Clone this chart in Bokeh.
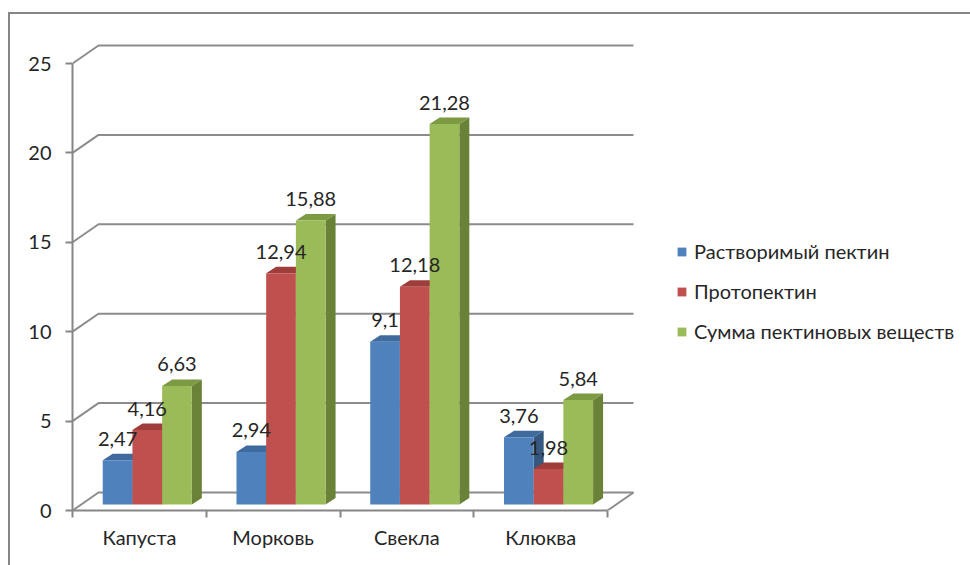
from bokeh.core.properties import value
from bokeh.embed import file_html
from bokeh.models import (ColumnDataSource, FixedTicker, InlineStyleSheet, Legend, LegendItem,
                          Range1d)
from bokeh.plotting import figure
from bokeh.resources import INLINE

# Pectin content by vegetable / berry
categories = ["Капуста", "Морковь", "Свекла", "Клюква"]
series_names = ["Растворимый пектин", "Протопектин", "Сумма пектиновых веществ"]
soluble = [2.47, 2.94, 9.1, 3.76]
protopectin = [4.16, 12.94, 12.18, 1.98]
total = [6.63, 15.88, 21.28, 5.84]
y_ticks = [0, 5, 10, 15, 20, 25]

FONT = "Lato"
TEXT = "#262626"
AXIS = "#868686"
GRID = "#8c8c8c"
FRONT = ["#4F81BD", "#C0504D", "#9BBB59"]
TOP = ["#3E6A9E", "#9E3D3A", "#7C9A42"]
SIDE = ["#36587F", "#8A3634", "#6A8138"]

PX_X = 133.75   # pixels per category
PX_Y = 17.88    # pixels per value unit
WALL_DX, WALL_DY = 26 / PX_X, 18 / PX_Y      # floor depth
BAR_DX, BAR_DY = 10 / PX_X, 6.5 / PX_Y       # bar depth
BASE = 6 / PX_Y                              # bars stand slightly behind the front edge
BAR_W = 29.7 / PX_X
GROUP_START = 0.226

# Chart-area edge: only its top and left sides fall inside the page
edge = InlineStyleSheet(css=f""":host::before {{
    content: ""; position: absolute; left: 8px; top: 12px; right: 0; bottom: 0;
    border-style: solid; border-color: {AXIS}; border-width: 2px 0 0 2px;
    pointer-events: none; z-index: 5;
}}""")

p = figure(width=970, height=565, output_backend="svg", toolbar_location=None,
           x_range=Range1d(0, 898 / PX_X), y_range=Range1d(0, 510 / PX_Y),
           min_border_left=72, min_border_right=0, min_border_top=0, min_border_bottom=55,
           outline_line_color=None, background_fill_color="white", border_fill_color="white",
           stylesheets=[edge])
p.grid.visible = False

# Axes
xa = p.xaxis[0]
xa.ticker = FixedTicker(ticks=[i + 0.5 for i in range(len(categories))],
                        minor_ticks=list(range(len(categories) + 1)))
xa.major_label_overrides = {i + 0.5: c for i, c in enumerate(categories)}
xa.bounds = (0, len(categories))
xa.major_tick_out = 0
xa.major_tick_in = 0
xa.minor_tick_out = 7
xa.minor_tick_in = 0
xa.major_label_standoff = 7
ya = p.yaxis[0]
ya.ticker = FixedTicker(ticks=y_ticks)
ya.bounds = (0, y_ticks[-1])
ya.major_tick_out = 7
ya.major_tick_in = 0
ya.minor_tick_out = 0
ya.minor_tick_in = 0
ya.major_label_standoff = 14
for ax in (xa, ya):
    ax.axis_line_color = AXIS
    ax.axis_line_width = 2
    ax.major_tick_line_color = AXIS
    ax.major_tick_line_width = 2
    ax.minor_tick_line_color = AXIS
    ax.minor_tick_line_width = 2
    ax.major_label_text_font = FONT
    ax.major_label_text_font_size = "20px"
    ax.major_label_text_color = TEXT

# Back-wall gridlines and floor edge
n = len(categories)
gx, gy = [], []
for t in y_ticks:
    gx.append([0, WALL_DX, n + WALL_DX])
    gy.append([t, t + WALL_DY, t + WALL_DY])
gx.append([n, n + WALL_DX])
gy.append([0, WALL_DY])
p.multi_line(gx, gy, line_color=GRID, line_width=2)

# Bars: front face plus top and side faces for the 3-D look
legend_items = []
label_x, label_y, label_text = [], [], []
for s, vals in enumerate((soluble, protopectin, total)):
    left = [i + GROUP_START + s * BAR_W for i in range(n)]
    right = [x + BAR_W for x in left]
    bottom = [BASE] * n
    top = [BASE + v for v in vals]
    side_x = [[r, r + BAR_DX, r + BAR_DX, r] for r in right]
    side_y = [[b, b + BAR_DY, t + BAR_DY, t] for b, t in zip(bottom, top)]
    top_x = [[l, l + BAR_DX, r + BAR_DX, r] for l, r in zip(left, right)]
    top_y = [[t, t + BAR_DY, t + BAR_DY, t] for t in top]
    p.patches(side_x, side_y, fill_color=SIDE[s], line_color=None)
    p.patches(top_x, top_y, fill_color=TOP[s], line_color=None)
    r = p.quad(left=left, right=right, bottom=bottom, top=top,
               fill_color=FRONT[s], line_color=None)
    legend_items.append(LegendItem(label=series_names[s], renderers=[r]))
    label_x += [(l + rr) / 2 for l, rr in zip(left, right)]
    label_y += top
    label_text += [str(v).replace(".", ",") for v in vals]

# Value labels float above each bar
src = ColumnDataSource(dict(x=label_x, y=label_y, t=label_text))
p.text("x", "y", text="t", source=src, text_align="center", text_baseline="middle",
       y_offset=-21.5, text_font=value(FONT), text_font_size="20px", text_color=TEXT)

legend = Legend(items=legend_items, location=(604, 167), orientation="vertical",
                glyph_width=11, glyph_height=11, label_standoff=7, spacing=16,
                padding=0, margin=0, background_fill_alpha=0, border_line_color=None,
                label_text_font=FONT, label_text_font_size="20px", label_text_color=TEXT)
p.add_layout(legend)

open("out.html", "w").write(file_html(p, INLINE))
